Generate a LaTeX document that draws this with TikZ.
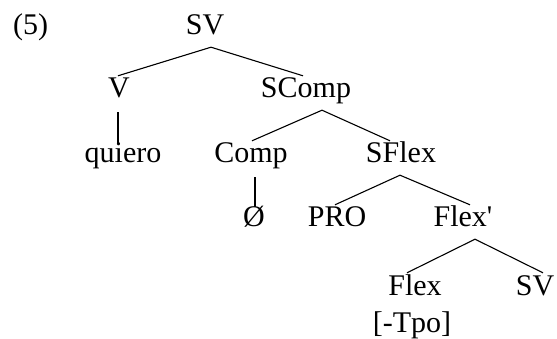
\documentclass[tikz,border=0pt]{standalone}
\usepackage{fontspec}
\setmainfont{Liberation Serif}[Ligatures=TeXOff]
\begin{document}
\begin{tikzpicture}[x=1pt,y=-1pt,
  lab/.style={anchor=base,inner sep=0pt,text height=22pt,text depth=12pt,font=\fontsize{30}{36}\selectfont},
  edge/.style={line width=1.1pt,black}]
\useasboundingbox (0,0) rectangle (557,339);
\node[lab,anchor=base west] (ex) at (13,35) {(5)};
\node[lab] (sv) at (205,35) {SV};
\node[lab] (v) at (119,98) {V};
\node[lab] (scomp) at (306,98) {SComp};
\node[lab] (quiero) at (123,163) {quiero};
\node[lab] (comp) at (251,163) {Comp};
\node[lab] (sflex) at (401,163) {SFlex};
\node[lab] (null) at (254,227) {Ø};
\node[lab] (pro) at (337,227) {PRO};
\node[lab] (flexbar) at (463,227) {Flex'};
\node[lab] (flex) at (415,295) {Flex};
\node[lab] (sv2) at (535,295) {SV};
\node[lab] (tpo) at (412,332) {[-Tpo]};
\draw[edge] ([xshift=6pt]sv.south) -- ([xshift=-1pt]v.north);
\draw[edge] ([xshift=6pt]sv.south) -- ([xshift=-3pt]scomp.north);
\draw[edge] ([xshift=-1pt,yshift=-2pt]v.south) -- ([xshift=-5pt,yshift=-2pt]quiero.north);
\draw[edge] ([xshift=16pt]scomp.south) -- ([xshift=1pt]comp.north);
\draw[edge] ([xshift=16pt]scomp.south) -- ([xshift=-11pt]sflex.north);
\draw[edge] ([xshift=4pt,yshift=-2pt]comp.south) -- ([xshift=1pt,yshift=-2pt]null.north);
\draw[edge] ([xshift=-1pt]sflex.south) -- ([xshift=-2pt]pro.north);
\draw[edge] ([xshift=-1pt]sflex.south) -- ([xshift=7pt]flexbar.north);
\draw[edge] ([xshift=12pt]flexbar.south) -- ([xshift=-8pt]flex.north);
\draw[edge] ([xshift=12pt]flexbar.south) -- ([xshift=8pt]sv2.north);
\end{tikzpicture}
\end{document}
